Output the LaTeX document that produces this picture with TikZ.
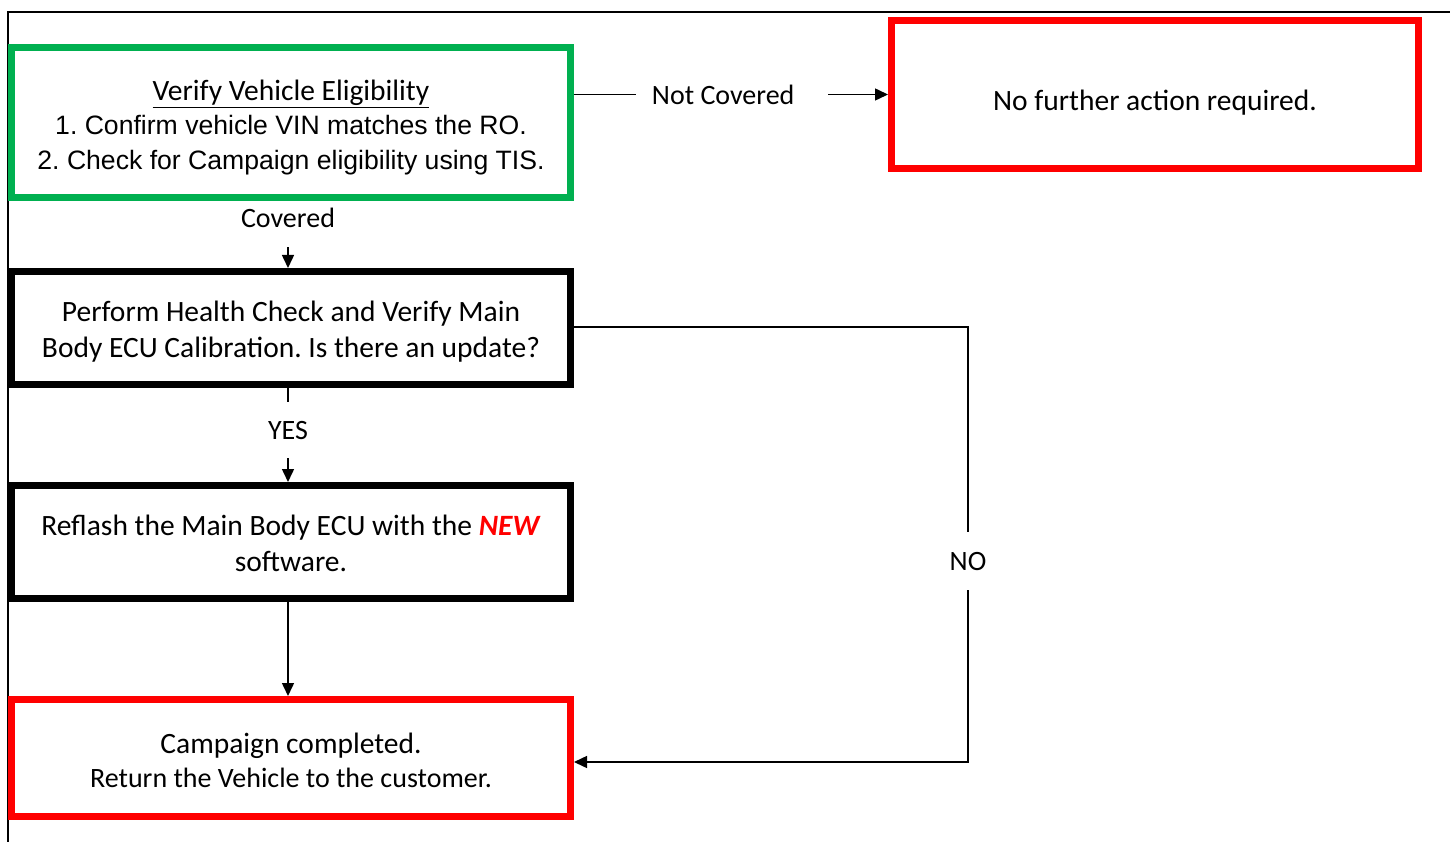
\documentclass[tikz,border=0pt]{standalone}
\usepackage{fontspec}
\setmainfont{Carlito}
\newfontfamily\arialf{Liberation Sans}
\usetikzlibrary{arrows.meta}
\pgfdeclarelayer{bg}
\pgfsetlayers{bg,main}
\definecolor{boxgreen}{RGB}{0,176,80}
\definecolor{boxred}{RGB}{255,0,0}
\newcommand{\pushdn}[2]{\raisebox{0pt}[\dimexpr\height+#1\relax]{#2}}
\frenchspacing
\begin{document}
\frenchspacing
\begin{tikzpicture}[x=1pt,y=-1pt,
  box/.style={draw, line width=7pt, minimum width=559pt, inner sep=0pt, align=center, fill=white,
    font=\fontsize{29.5}{36}\selectfont},
  conn/.style={line width=1.5pt, -{Triangle[length=13pt,width=12pt]}},
  lbl/.style={fill=white, inner sep=0pt, font=\fontsize{28}{34}\selectfont},
  frame/.style={line width=2pt}]
\useasboundingbox (0,0) rectangle (1450,842);
\draw[frame] (1450,12) -- (8,12) -- (8,842);

\node[box, draw=boxgreen, minimum height=150pt, font=\fontsize{29.5}{34.5}\selectfont] (elig) at (291,122.5)
  {\pushdn{10pt}{\underline{Verify Vehicle Eligibility}}\\
   {\arialf\fontsize{26.6}{34.5}\selectfont 1. Confirm vehicle VIN matches the RO.}\\
   {\arialf\fontsize{26.6}{34.5}\selectfont 2. Check for Campaign eligibility using TIS.}};
\node[box, draw=boxred, minimum width=527pt, minimum height=148pt] (nofurther) at (1155,94.5)
  {\pushdn{16pt}{No further action required.}};
\node[box, draw=black, minimum height=113pt] (health) at (291,328)
  {\pushdn{8pt}{Perform Health Check and Verify Main}\\Body ECU Calibration. Is there an update?};
\node[box, draw=black, minimum height=113pt] (reflash) at (291,542)
  {\pushdn{2pt}{Reflash the Main Body ECU with the \textcolor{boxred}{\textbf{\textit{NEW}}}}\\software.};
\node[box, draw=boxred, minimum height=117pt, font=\fontsize{29.5}{34}\selectfont] (done) at (291,758)
  {\pushdn{4pt}{Campaign completed.}\\{\fontsize{28}{34}\selectfont Return the Vehicle to the customer.}};

\coordinate (nocorner) at (968,327);
\coordinate (doneIn) at ([yshift=-4pt]done.east);

\begin{pgfonlayer}{bg}
\draw[conn] (elig.east |- nofurther.west) -- node[lbl, pos=0.503, minimum height=30pt] {\makebox[192pt][l]{\hspace{16pt}Not Covered}} (nofurther.west);
\draw[conn] ([xshift=-3pt]elig.south) -- node[lbl, pos=0.254, minimum height=58pt, minimum width=100pt] {Covered} ([xshift=-3pt]health.north);
\draw[conn] ([xshift=-3pt]health.south) -- node[lbl, pos=0.447, minimum height=56pt, minimum width=60pt] {YES} ([xshift=-3pt]reflash.north);
\draw[conn] ([xshift=-3pt]reflash.south) -- ([xshift=-3pt]done.north);
\draw[conn] (health.east |- nocorner) -- (nocorner) -- node[lbl, pos=0.538, minimum height=58pt, minimum width=50pt] {NO} (nocorner |- doneIn) -- (doneIn);
\end{pgfonlayer}
\end{tikzpicture}
\end{document}
